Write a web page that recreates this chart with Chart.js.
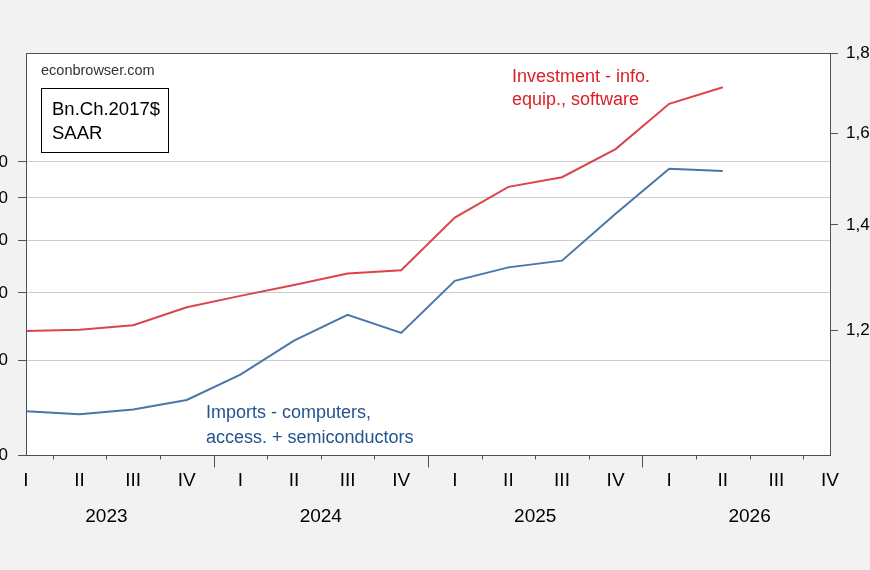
<!DOCTYPE html>
<html lang="en">
<head>
    <meta charset="UTF-8">
    <title>Investment and imports</title>
    <script src="https://cdn.jsdelivr.net/npm/chart.js"></script>
    <style>
        html, body { margin: 0; padding: 0; background: #f2f2f2; overflow: hidden; width: 870px; height: 570px; }
        #wrap { position: absolute; left: -40px; top: 0; width: 940px; height: 570px; }
    </style>
</head>
<body>
    <div id="wrap"><canvas id="chart" width="940" height="570"></canvas></div>
    <script>
        // quarters 2023Q1 .. 2026Q4
        const quarters = ['2023Q1','2023Q2','2023Q3','2023Q4','2024Q1','2024Q2','2024Q3','2024Q4',
                          '2025Q1','2025Q2','2025Q3','2025Q4','2026Q1','2026Q2','2026Q3','2026Q4'];
        const romans = ['I', 'II', 'III', 'IV'];
        const years = ['2023', '2024', '2025', '2026'];

        // Bn. chained 2017$, SAAR (right axis)
        const investment = [1199, 1201, 1209, 1241, 1262, 1282, 1304, 1310,
                            1415, 1480, 1501, 1564, 1671, 1712, null, null];
        // Bn. chained 2017$, SAAR (left axis)
        const imports = [241, 238, 243, 253, 282, 326, 364, 337,
                         421, 446, 459, 561, 680, 673, null, null];

        const leftTicks = [200, 300, 400, 500, 600, 700];
        const rightTicks = [1200, 1400, 1600, 1800];

        const fontName = '"Liberation Sans", Arial, sans-serif';
        const frameColor = '#505050';

        const frame = {
            id: 'frame',
            beforeDraw(chart) {
                const a = chart.chartArea, ctx = chart.ctx;
                ctx.save();
                ctx.fillStyle = '#ffffff';
                ctx.fillRect(a.left, a.top, a.right - a.left, a.bottom - a.top);
                ctx.restore();
            },
            afterDraw(chart) {
                const a = chart.chartArea, ctx = chart.ctx, x = chart.scales.x;
                ctx.save();
                ctx.strokeStyle = frameColor;
                ctx.lineWidth = 1;
                ctx.strokeRect(Math.round(a.left) + 0.5, Math.round(a.top) + 0.5,
                               Math.round(a.right - a.left), Math.round(a.bottom - a.top));

                // tick marks between quarters, longer ones at year breaks
                const yb = Math.round(a.bottom) + 0.5;
                ctx.beginPath();
                for (let i = 0; i < quarters.length - 1; i++) {
                    const px = Math.round((x.getPixelForTick(i) + x.getPixelForTick(i + 1)) / 2) + 0.5;
                    const len = (i % 4 === 3) ? 12 : 4;
                    ctx.moveTo(px, yb);
                    ctx.lineTo(px, yb + len);
                }
                ctx.stroke();

                // year labels
                ctx.fillStyle = '#000';
                ctx.font = '19px ' + fontName;
                ctx.textAlign = 'center';
                ctx.textBaseline = 'alphabetic';
                years.forEach((y, k) => {
                    const px = (x.getPixelForTick(k * 4 + 1) + x.getPixelForTick(k * 4 + 2)) / 2;
                    ctx.fillText(y, px, a.bottom + 67);
                });

                // notes
                const L = a.left, T = a.top;
                ctx.textAlign = 'left';
                ctx.fillStyle = '#333';
                ctx.font = '14.5px ' + fontName;
                ctx.fillText('econbrowser.com', L + 15, T + 22);

                ctx.strokeStyle = '#000';
                ctx.strokeRect(L + 15.5, T + 35.5, 127, 64);
                ctx.fillStyle = '#000';
                ctx.font = '18.5px ' + fontName;
                ctx.fillText('Bn.Ch.2017$', L + 26, T + 62);
                ctx.fillText('SAAR', L + 26, T + 86);

                ctx.fillStyle = '#dc1e24';
                ctx.font = '18px ' + fontName;
                ctx.fillText('Investment - info.', L + 486, T + 29);
                ctx.fillText('equip., software', L + 486, T + 52);

                ctx.fillStyle = '#22548f';
                ctx.fillText('Imports - computers,', L + 180, T + 365);
                ctx.fillText('access. + semiconductors', L + 180, T + 390);
                ctx.restore();
            }
        };

        new Chart(document.getElementById('chart'), {
            type: 'line',
            data: {
                labels: quarters,
                datasets: [{
                    label: 'Imports - computers, access. + semiconductors',
                    data: imports,
                    yAxisID: 'yL',
                    borderColor: '#4a76a8',
                    borderWidth: 2,
                    pointRadius: 0,
                    tension: 0
                }, {
                    label: 'Investment - info. equip., software',
                    data: investment,
                    yAxisID: 'yR',
                    borderColor: '#d9454a',
                    borderWidth: 2,
                    pointRadius: 0,
                    tension: 0
                }]
            },
            options: {
                responsive: false,
                devicePixelRatio: 1,
                animation: false,
                layout: { padding: { top: 53, left: 0, right: 0, bottom: 0 } },
                plugins: { legend: { display: false }, tooltip: { enabled: false } },
                scales: {
                    x: {
                        offset: false,
                        afterFit(s) { s.height = 115; },
                        grid: { display: false, drawTicks: false },
                        border: { display: false },
                        ticks: {
                            autoSkip: false,
                            maxRotation: 0,
                            padding: 14,
                            color: '#000',
                            font: { family: fontName, size: 19 },
                            callback: (v, i) => romans[i % 4]
                        }
                    },
                    yL: {
                        type: 'logarithmic',
                        position: 'left',
                        min: 200,
                        max: 1115,
                        afterFit(s) { s.width = 66; },
                        afterBuildTicks(s) { s.ticks = leftTicks.map(v => ({ value: v })); },
                        grid: { color: '#cccccc', tickColor: frameColor, tickLength: 8, lineWidth: 1 },
                        border: { display: false },
                        ticks: {
                            padding: 10,
                            color: '#000',
                            font: { family: fontName, size: 17 },
                            callback: v => v.toLocaleString('en-US')
                        }
                    },
                    yR: {
                        type: 'logarithmic',
                        position: 'right',
                        min: 1000,
                        max: 1800,
                        afterFit(s) { s.width = 70; },
                        afterBuildTicks(s) { s.ticks = rightTicks.map(v => ({ value: v })); },
                        grid: { drawOnChartArea: false, tickColor: frameColor, tickLength: 8 },
                        border: { display: false },
                        ticks: {
                            padding: 8,
                            color: '#000',
                            font: { family: fontName, size: 17 },
                            callback: v => v.toLocaleString('en-US')
                        }
                    }
                }
            },
            plugins: [frame]
        });
    </script>
</body>
</html>
